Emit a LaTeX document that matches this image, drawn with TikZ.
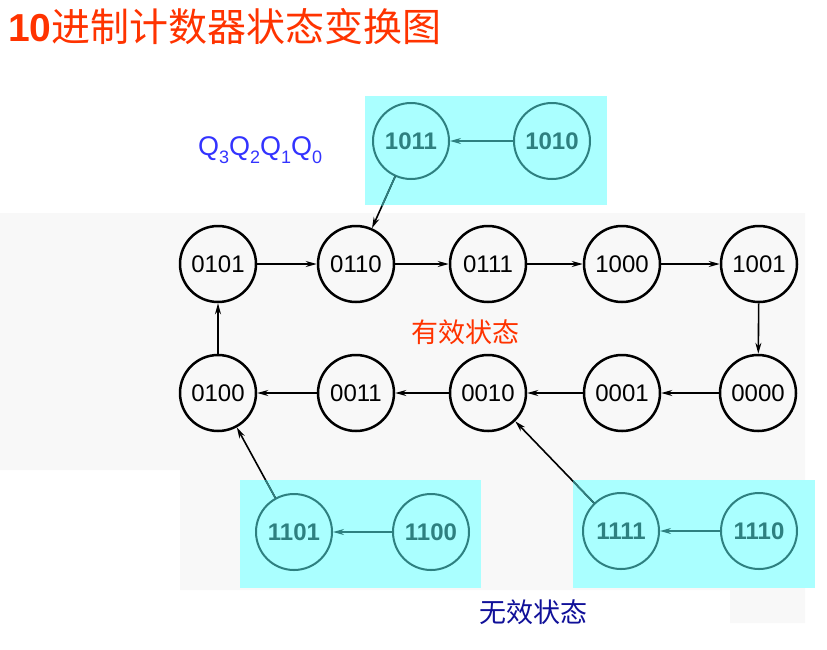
\documentclass[tikz,border=0pt]{standalone}
\usepackage{fontspec}
\setmainfont{Liberation Sans}
\newfontfamily\cjk{Noto Sans CJK SC}
\usetikzlibrary{arrows.meta}
\definecolor{boxcyan}{HTML}{AAFFFF}
\definecolor{tealc}{HTML}{2E8080}
\definecolor{titlered}{HTML}{FF3300}
\definecolor{qblue}{HTML}{3333FF}
\definecolor{navyc}{HTML}{101099}
\definecolor{scan}{HTML}{F8F8F8}
\tikzset{
  valid/.style={circle, draw=black, line width=2.5pt, minimum size=76pt, inner sep=0pt,
    font=\fontsize{24}{24}\selectfont},
  invalid/.style={circle, draw=tealc, line width=2pt, minimum size=76pt, inner sep=0pt,
    text=tealc, font=\fontsize{24}{24}\selectfont\bfseries},
  conn/.style={line width=1.6pt, -{Stealth[length=11pt,width=6pt]}},
  tconn/.style={conn, draw=tealc, color=tealc},
  shade box/.style={fill=boxcyan, draw=none},
}
\begin{document}
\begin{tikzpicture}[x=1pt,y=-1pt]
\useasboundingbox (0,0) rectangle (827,649);
% faint scanned background
\fill[scan] (0,213) -- (805,213) -- (805,623) -- (730,623) -- (730,590)
  -- (180,590) -- (180,470) -- (0,470) -- cycle;
% cyan boxes
\path[shade box] (365,96) rectangle (607,205);
\path[shade box] (240,480) rectangle (481,588);
\path[shade box] (573,480) rectangle (815,588);
% title and labels
\node[anchor=west, inner sep=0pt, text=titlered] (title) at (8,27)
  {\fontsize{39}{39}\selectfont\bfseries 10\cjk\mdseries 进制计数器状态变换图};
\node[anchor=west, inner sep=0pt, text=qblue] (qlabel) at (198,150)
  {\fontsize{27}{27}\selectfont Q\raisebox{-0.3em}{\fontsize{18}{18}\selectfont 3}Q\raisebox{-0.3em}{\fontsize{18}{18}\selectfont 2}Q\raisebox{-0.3em}{\fontsize{18}{18}\selectfont 1}Q\raisebox{-0.3em}{\fontsize{18}{18}\selectfont 0}};
\node[text=titlered, inner sep=0pt] (validlbl) at (465,332) {\cjk\fontsize{27}{27}\selectfont 有效状态};
\node[text=navyc, inner sep=0pt] (invalidlbl) at (533,612) {\cjk\fontsize{27}{27}\selectfont 无效状态};
% valid states
\node[valid] (s0101) at (218,264) {0101};
\node[valid] (s0110) at (356,264) {0110};
\node[valid] (s0111) at (488,264) {0111};
\node[valid] (s1000) at (622,264) {1000};
\node[valid] (s1001) at (759,264) {1001};
\node[valid] (s0100) at (218,393) {0100};
\node[valid] (s0011) at (356,393) {0011};
\node[valid] (s0010) at (488,393) {0010};
\node[valid] (s0001) at (622,393) {0001};
\node[valid] (s0000) at (758,393) {0000};
% invalid states
\node[invalid] (s1011) at (411,141) {1011};
\node[invalid] (s1010) at (552,141) {1010};
\node[invalid] (s1101) at (294,532) {1101};
\node[invalid] (s1100) at (431,532) {1100};
\node[invalid] (s1111) at (621,531) {1111};
\node[invalid] (s1110) at (759,531) {1110};
% valid cycle
\draw[conn] (s0101) -- (s0110);
\draw[conn] (s0110) -- (s0111);
\draw[conn] (s0111) -- (s1000);
\draw[conn] (s1000) -- (s1001);
\draw[conn] (s1001) -- (s0000);
\draw[conn] (s0000) -- (s0001);
\draw[conn] (s0001) -- (s0010);
\draw[conn] (s0010) -- (s0011);
\draw[conn] (s0011) -- (s0100);
\draw[conn] (s0100) -- (s0101);
% invalid transitions
\draw[tconn] (s1010) -- (s1011);
\draw[tconn] (s1100) -- (s1101);
\draw[tconn] (s1110) -- (s1111);
\draw[conn] (s1011) -- (s0110);
\draw[conn] (s1101) -- (s0100);
\draw[conn] (s1111) -- (s0010);
\begin{scope}
  \clip (365,96) rectangle (607,205);
  \draw[tconn] (s1011) -- (s0110);
\end{scope}
\begin{scope}
  \clip (240,480) rectangle (481,588);
  \draw[tconn] (s1101) -- (s0100);
\end{scope}
\begin{scope}
  \clip (573,480) rectangle (815,588);
  \draw[tconn] (s1111) -- (s0010);
\end{scope}
\end{tikzpicture}
\end{document}
